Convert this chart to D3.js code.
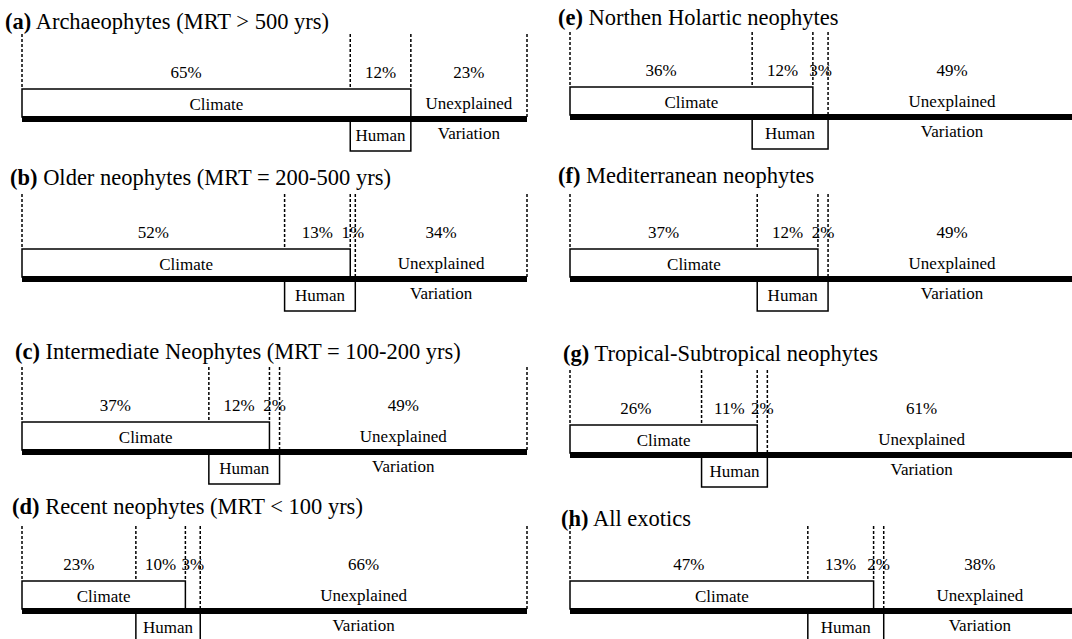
<!DOCTYPE html>
<html>
<head>
<meta charset="utf-8">
<script src="https://cdn.jsdelivr.net/npm/d3@7"></script>
<style>
  body { margin: 0; background: #fff; }
  .dash { stroke: #000; stroke-width: 1.5; stroke-dasharray: 3, 2; }
  .box { fill: #fff; stroke: #000; stroke-width: 1.5; }
</style>
</head>
<body>
<div id="chart"></div>
<script>
// variation partitioning, % of explained deviance
const letters = ["a", "b", "c", "d", "e", "f", "g", "h"];
const titles = [
  "Archaeophytes (MRT > 500 yrs)",
  "Older neophytes (MRT = 200-500 yrs)",
  "Intermediate Neophytes (MRT = 100-200 yrs)",
  "Recent neophytes (MRT < 100 yrs)",
  "Northen Holartic neophytes",
  "Mediterranean neophytes",
  "Tropical-Subtropical neophytes",
  "All exotics"
];
const climateOnly = [65, 52, 37, 23, 36, 37, 26, 47];
const shared = [12, 13, 12, 10, 12, 12, 11, 13];
const humanOnly = [0, 1, 2, 3, 3, 2, 2, 2];
const unexplained = [23, 34, 49, 66, 49, 49, 61, 38];

// layout: two columns, four rows
var width = 1072, height = 639;
var serif = "'Liberation Serif', 'Times New Roman', serif";
var colX = [[22, 527], [570, 1076]];
var titleX = [5, 10, 15, 12, 558, 558, 563, 561];
var lineY = [117, 277, 450, 609, 115, 277, 453, 609];
var titleY = [21, 177, 351, 506, 17, 175, 353, 518];

var svg = d3.select("#chart")
  .append("svg")
  .attr("width", width)
  .attr("height", height)
  .style("font-family", serif);

letters.forEach(function(l, i) {
  var c = i < 4 ? 0 : 1;
  var base = lineY[i];
  var total = climateOnly[i] + shared[i] + humanOnly[i] + unexplained[i];
  var x = d3.scaleLinear()
    .domain([0, total])
    .range(colX[c]);
  var b1 = climateOnly[i],
    b2 = b1 + shared[i],
    b3 = b2 + humanOnly[i];

  var g = svg.append("g").attr("class", "panel");

  // title
  var t = g.append("text")
    .attr("x", titleX[i])
    .attr("y", titleY[i])
    .attr("dy", "0.35em")
    .style("font-family", serif)
    .style("font-size", "22.5px");
  t.append("tspan").style("font-weight", "bold").text("(" + l + ")");
  t.append("tspan").text(" " + titles[i]);

  // dashed separators
  var cuts = [
    { v: 0, low: base - 28 },
    { v: b1, low: base - 28 },
    { v: b2, low: base - 28 }
  ];
  if (humanOnly[i] > 0) cuts.push({ v: b3, low: base });
  cuts.push({ v: total, low: base });
  g.selectAll("line.dash")
    .data(cuts)
    .enter()
    .append("line")
    .attr("class", "dash")
    .attr("x1", function(d) { return x(d.v); })
    .attr("x2", function(d) { return x(d.v); })
    .attr("y1", base - 83)
    .attr("y2", function(d) { return d.low; });

  // climate box
  g.append("rect")
    .attr("class", "box")
    .attr("x", x(0))
    .attr("y", base - 28)
    .attr("width", x(b2) - x(0))
    .attr("height", 28);

  // human box
  g.append("rect")
    .attr("class", "box")
    .attr("x", x(b1))
    .attr("y", base + 4)
    .attr("width", x(b3) - x(b1))
    .attr("height", 30);

  // thick baseline
  g.append("rect")
    .attr("x", x(0))
    .attr("y", base - 1)
    .attr("width", x(total) - x(0))
    .attr("height", 6)
    .attr("fill", "#000");

  // percentages
  var segs = [
    { a: 0, b: b1, v: climateOnly[i] },
    { a: b1, b: b2, v: shared[i] }
  ];
  if (humanOnly[i] > 0) segs.push({ a: b2, b: b3, v: humanOnly[i] });
  segs.push({ a: b3, b: total, v: unexplained[i] });
  g.selectAll("text.pct")
    .data(segs)
    .enter()
    .append("text")
    .attr("class", "pct")
    .attr("x", function(d) { return x((d.a + d.b) / 2); })
    .attr("y", base - 45)
    .attr("dy", "0.35em")
    .attr("text-anchor", "middle")
    .style("font-family", serif)
    .style("font-size", "17px")
    .text(function(d) { return d.v + "%"; });

  var labels = [
    { t: "Climate", cx: x(b2 / 2), y: base - 13 },
    { t: "Unexplained", cx: x((b3 + total) / 2), y: base - 14 },
    { t: "Variation", cx: x((b3 + total) / 2), y: base + 16 },
    { t: "Human", cx: x((b1 + b3) / 2), y: base + 18 }
  ];
  g.selectAll("text.lab")
    .data(labels)
    .enter()
    .append("text")
    .attr("class", "lab")
    .attr("x", function(d) { return d.cx; })
    .attr("y", function(d) { return d.y; })
    .attr("dy", "0.35em")
    .attr("text-anchor", "middle")
    .style("font-family", serif)
    .style("font-size", "17px")
    .text(function(d) { return d.t; });
});
</script>
</body>
</html>
